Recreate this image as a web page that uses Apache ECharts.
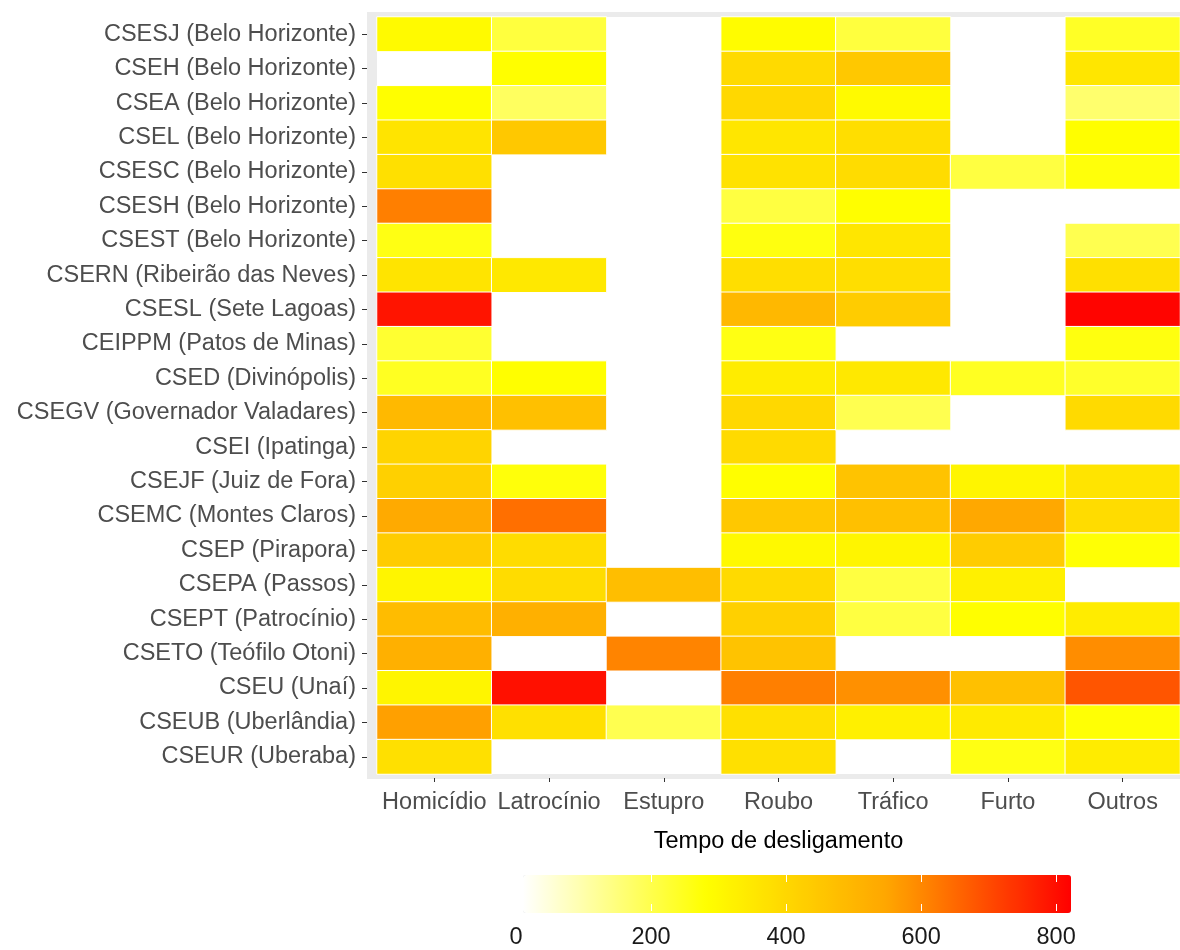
<!DOCTYPE html>
<html>
<head>
<meta charset="utf-8">
<script src="https://cdn.jsdelivr.net/npm/echarts@6/dist/echarts.min.js"></script>
<style>
html,body{margin:0;padding:0;background:#fff;}
#chart{width:1180px;height:950px;}
</style>
</head>
<body>
<div id="chart"></div>
<script>
// Row categories (top to bottom)
const units = [
  "CSESJ (Belo Horizonte)",
  "CSEH (Belo Horizonte)",
  "CSEA (Belo Horizonte)",
  "CSEL (Belo Horizonte)",
  "CSESC (Belo Horizonte)",
  "CSESH (Belo Horizonte)",
  "CSEST (Belo Horizonte)",
  "CSERN (Ribeirão das Neves)",
  "CSESL (Sete Lagoas)",
  "CEIPPM (Patos de Minas)",
  "CSED (Divinópolis)",
  "CSEGV (Governador Valadares)",
  "CSEI (Ipatinga)",
  "CSEJF (Juiz de Fora)",
  "CSEMC (Montes Claros)",
  "CSEP (Pirapora)",
  "CSEPA (Passos)",
  "CSEPT (Patrocínio)",
  "CSETO (Teófilo Otoni)",
  "CSEU (Unaí)",
  "CSEUB (Uberlândia)",
  "CSEUR (Uberaba)"
];
// Column categories
const crimes = ["Homicídio", "Latrocínio", "Estupro", "Roubo", "Tráfico", "Furto", "Outros"];

// Values per crime, in the order of units (null = no data)
const homicidio  = [295, null, 285, 362, 374, 613, 260, 362, 790, 229, 245, 490, 410, 422, 537, 434, 311, 483, 519, 311, 560, 374];
const latrocinio = [215, 285, 180, 447, null, null, null, 350, null, null, 285, 471, null, 270, 640, 386, 386, 519, null, 796, 374, null];
const estupro    = [null, null, null, null, null, null, null, null, null, null, null, null, null, null, null, null, 477, null, 605, null, 196, null];
const roubo      = [290, 392, 398, 356, 368, 212, 265, 380, 495, 260, 338, 398, 392, 285, 447, 300, 392, 422, 460, 613, 374, 374];
const trafico    = [215, 447, 295, 380, 386, 285, 356, 380, 434, null, 350, 196, null, 460, 471, 311, 212, 212, null, 586, 326, null];
const furto      = [null, null, null, null, 212, null, null, null, null, null, 245, null, null, 311, 543, 434, 326, 285, null, 471, 345, 260];
const outros     = [240, 356, 165, 285, 270, null, 196, 374, 815, 265, 235, 392, null, 362, 386, 275, null, 338, 590, 683, 275, 338];

// Colour scale range and legend ticks
const scaleMin = 10;
const scaleMax = 822;
const legendTicks = [0, 200, 400, 600, 800];

const columns = [homicidio, latrocinio, estupro, roubo, trafico, furto, outros];
const heatData = [];
columns.forEach((col, ci) => {
  col.forEach((v, ri) => {
    if (v !== null) heatData.push([ci, ri, v]);
  });
});

const chart = echarts.init(document.getElementById('chart'));
const FONT = 'Liberation Sans, Arial, sans-serif';
const option = {
  backgroundColor: '#ffffff',
  animation: false,
  textStyle: { fontFamily: FONT },
  grid: [
    { // grey panel background
      left: 367, top: 12, right: -5, bottom: 171,
      show: true, backgroundColor: '#EBEBEB', borderWidth: 0
    },
    { // main heatmap area
      left: 377, top: 17, right: 0, bottom: 176,
      show: true, backgroundColor: '#FFFFFF', borderWidth: 0
    },
    { // colour bar scale
      left: 516, top: 875, width: 555, height: 38
    }
  ],
  xAxis: [
    { gridIndex: 0, type: 'value', show: false },
    {
      gridIndex: 1, type: 'category', data: crimes, position: 'bottom', offset: 4,
      axisLine: { show: false },
      axisTick: { show: true, alignWithLabel: true, interval: 0, length: 4, lineStyle: { color: '#333333' } },
      axisLabel: { interval: 0, margin: 13, fontSize: 23.5, color: '#4D4D4D', fontFamily: FONT },
      splitLine: { show: false },
      name: 'Tempo de desligamento', nameLocation: 'middle', nameGap: 52,
      nameTextStyle: { fontSize: 23.5, color: '#000000', fontFamily: FONT }
    },
    {
      gridIndex: 2, type: 'value', min: 0, max: scaleMax, position: 'bottom', z: 10,
      axisLine: { show: false },
      axisTick: { show: true, inside: true, length: 7, customValues: legendTicks, lineStyle: { color: '#FFFFFF', width: 1 } },
      axisLabel: { margin: 15, fontSize: 23.5, color: '#1A1A1A', fontFamily: FONT, customValues: legendTicks },
      splitLine: { show: false }
    },
    {
      gridIndex: 2, type: 'value', min: 0, max: scaleMax, position: 'top', z: 10,
      axisLine: { show: false },
      axisTick: { show: true, inside: true, length: 7, customValues: legendTicks, lineStyle: { color: '#FFFFFF', width: 1 } },
      axisLabel: { show: false },
      splitLine: { show: false }
    }
  ],
  yAxis: [
    { gridIndex: 0, type: 'value', show: false },
    {
      gridIndex: 1, type: 'category', data: units, inverse: true, offset: 10,
      axisLine: { show: false },
      axisTick: { show: true, alignWithLabel: true, interval: 0, length: 5, lineStyle: { color: '#333333' } },
      axisLabel: { interval: 0, margin: 11, fontSize: 23.5, color: '#4D4D4D', fontFamily: FONT },
      splitLine: { show: false }
    },
    { gridIndex: 2, type: 'value', show: false }
  ],
  visualMap: {
    type: 'continuous',
    min: scaleMin, max: scaleMax,
    orient: 'horizontal',
    left: 523, top: 875,
    itemWidth: 38, itemHeight: 548,
    padding: 0,
    calculable: false,
    hoverLink: false,
    showLabel: false,
    text: null,
    seriesIndex: 0,
    inRange: { color: ['#FFFFFF', '#FFFF00', '#FFA500', '#FF0000'] }
  },
  series: [
    {
      type: 'heatmap',
      xAxisIndex: 1, yAxisIndex: 1,
      data: heatData,
      itemStyle: { borderColor: '#FFFFFF', borderWidth: 1 },
      emphasis: { disabled: true },
      label: { show: false }
    }
  ]
};
chart.setOption(option);
</script>
</body>
</html>
